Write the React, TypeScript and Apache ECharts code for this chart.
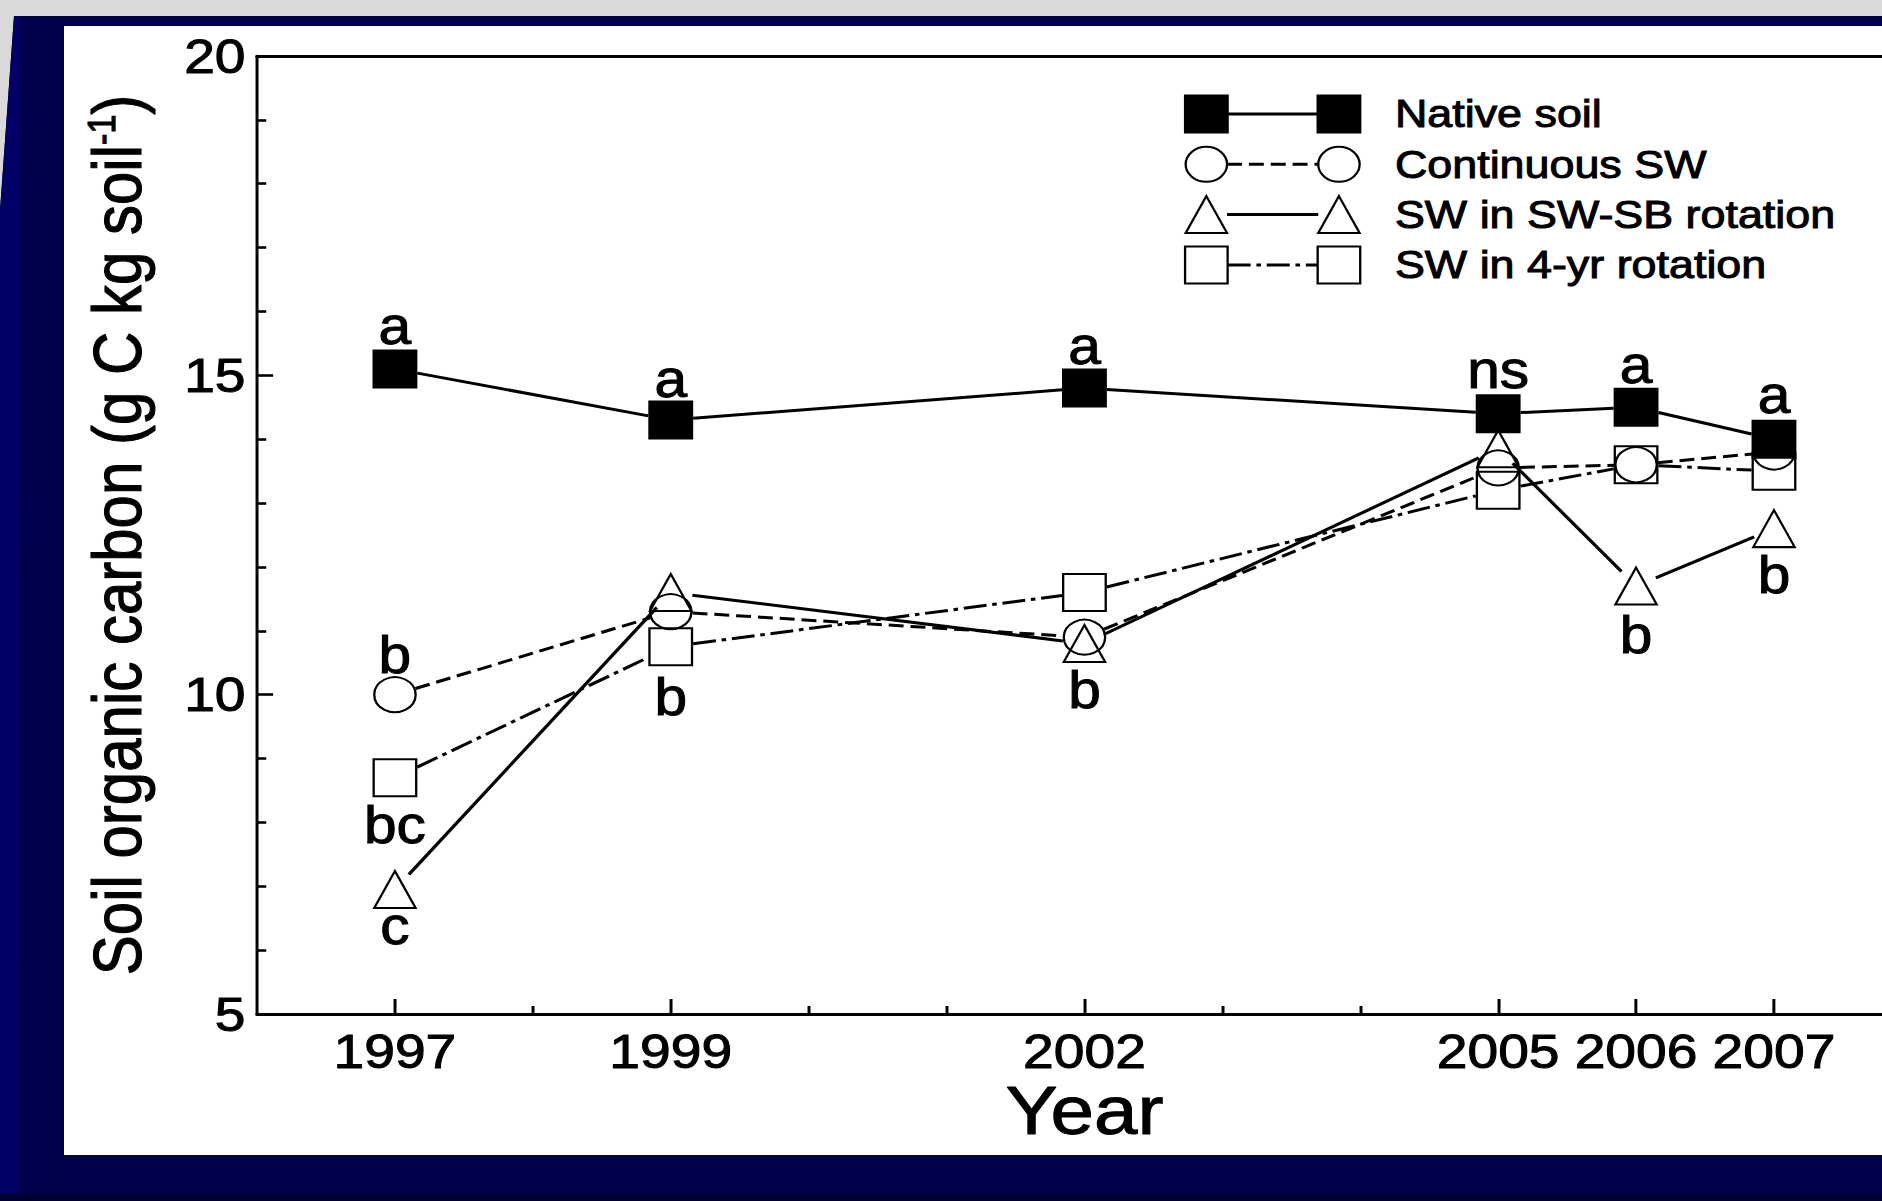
import React, { useEffect, useRef } from "react";
import * as echarts from "echarts";

// ---------- data ----------
const years = [1997, 1999, 2002, 2005, 2006, 2007];
const seriesNames = ["Native soil", "Continuous SW", "SW in SW-SB rotation", "SW in 4-yr rotation"];
const nativeSoil = [15.1, 14.3, 14.8, 14.4, 14.5, 14.0];
const continuousSW = [10.0, 11.3, 10.9, 13.55, 13.6, 13.8];
const swSbRotation = [6.95, 11.6, 10.8, 13.85, 11.7, 12.6];
const fourYrRotation = [8.7, 10.75, 11.6, 13.2, 13.6, 13.5];

const majorTickYears = [1997, 1999, 2002, 2005, 2006, 2007];
const minorTickYears = [1998, 2000, 2001, 2003, 2004];

const letterYears = [1997, 1999, 2002, 2005, 2006, 2007, 1997, 1999, 2002, 1997, 1997, 2006, 2007];
const letterPositions = [15.77, 14.93, 15.46, 15.07, 15.16, 14.69, 10.62, 9.95, 10.07, 7.95, 6.37, 10.93, 11.87];
const letterTexts = ["a", "a", "a", "ns", "a", "a", "b", "b", "b", "bc", "c", "b", "b"];

// ---------- layout / styles ----------
const W = 1882;
const H = 1201;
const STRETCH = 1.15;
const CW = W / STRETCH;
const FONT = "'Liberation Sans', Arial, Helvetica, sans-serif";
const TB = { textBorderColor: "#000", textBorderWidth: 1 };

type Kind = "rect" | "circle" | "triangle";
const seriesStyles: { kind: Kind; size: [number, number]; fill: string; dash: number[] | null }[] = [
  { kind: "rect", size: [37, 37], fill: "#000", dash: null },
  { kind: "circle", size: [36, 35], fill: "rgba(0,0,0,0)", dash: [13, 6] },
  { kind: "triangle", size: [36, 37], fill: "rgba(0,0,0,0)", dash: null },
  { kind: "rect", size: [37, 37], fill: "rgba(0,0,0,0)", dash: [20, 5, 4, 5] },
];
const seriesValues = [nativeSoil, continuousSW, swSbRotation, fourYrRotation];

function gapFor(kind: Kind, size: [number, number], ux: number, uy: number) {
  const a = size[0] / 2;
  const b = size[1] / 2;
  if (kind === "rect") {
    const tx = Math.abs(ux) > 1e-9 ? a / Math.abs(ux) : Infinity;
    const ty = Math.abs(uy) > 1e-9 ? b / Math.abs(uy) : Infinity;
    return Math.min(tx, ty);
  }
  return 1 / Math.sqrt((ux / a) ** 2 + (uy / b) ** 2);
}

function marker(kind: Kind, cx: number, cy: number, size: [number, number], fill: string) {
  const [w, h] = size;
  const style = { fill, stroke: "#000", lineWidth: 2 };
  if (kind === "rect") {
    return { type: "rect", shape: { x: cx - w / 2, y: cy - h / 2, width: w, height: h }, style };
  }
  if (kind === "circle") {
    return { type: "ellipse", shape: { cx, cy, rx: w / 2, ry: h / 2 }, style };
  }
  return {
    type: "polygon",
    shape: { points: [[cx, cy - h / 2], [cx + w / 2, cy + h / 2], [cx - w / 2, cy + h / 2]] },
    style,
  };
}

function buildOption() {
  const lineSeries = seriesValues.map((vals, si) => {
    const st = seriesStyles[si];
    return {
      type: "custom",
      name: seriesNames[si] + " line",
      coordinateSystem: "cartesian2d",
      silent: true,
      z: 2,
      encode: { x: [0, 2], y: [1, 3] },
      data: years.slice(0, -1).map((yr, i) => [yr, vals[i], years[i + 1], vals[i + 1]]),
      renderItem: (_params: any, api: any) => {
        const p1 = api.coord([api.value(0), api.value(1)]);
        const p2 = api.coord([api.value(2), api.value(3)]);
        const dx = p2[0] - p1[0];
        const dy = p2[1] - p1[1];
        const len = Math.hypot(dx, dy) || 1;
        const ux = dx / len;
        const uy = dy / len;
        const g = gapFor(st.kind, st.size, ux, uy) + 1;
        return {
          type: "line",
          shape: { x1: p1[0] + ux * g, y1: p1[1] + uy * g, x2: p2[0] - ux * g, y2: p2[1] - uy * g },
          style: { stroke: "#000", lineWidth: 3, lineDash: st.dash || undefined, fill: null },
        };
      },
    };
  });

  const markerSeries = seriesValues.map((vals, si) => {
    const st = seriesStyles[si];
    return {
      type: "scatter",
      name: seriesNames[si],
      silent: true,
      z: si === 0 ? 5 : 4,
      data: years.map((yr, i) => [yr, vals[i]]),
      symbol: st.kind,
      symbolSize: st.size,
      itemStyle: { color: st.fill, borderColor: "#000", borderWidth: 2, opacity: 1 },
    };
  });

  const letterSeries = {
    type: "custom",
    name: "letters",
    coordinateSystem: "cartesian2d",
    silent: true,
    z: 6,
    encode: { x: 0, y: 1 },
    data: letterYears.map((yr, i) => [yr, letterPositions[i]]),
    renderItem: (params: any, api: any) => {
      const p = api.coord([api.value(0), api.value(1)]);
      return {
        type: "text",
        x: p[0],
        y: p[1],
        style: {
          text: letterTexts[params.dataIndex],
          fontSize: 51,
          fontFamily: FONT,
          fill: "#000",
          stroke: "#000",
          lineWidth: 1,
          align: "center",
          verticalAlign: "middle",
        },
      };
    },
  };

  // legend (drawn manually to show marker—line—marker)
  const legTop = 114;
  const legGap = 50.3;
  const legL = 1049;
  const legR = 1164.3;
  const legText = 1213;
  const legendEls: any[] = [];
  seriesNames.forEach((name, i) => {
    const st = seriesStyles[i];
    const y = legTop + i * legGap;
    legendEls.push({
      type: "line",
      shape: { x1: legL + st.size[0] / 2, y1: y, x2: legR - st.size[0] / 2, y2: y },
      style: { stroke: "#000", lineWidth: 3, lineDash: st.dash || undefined },
    });
    legendEls.push(marker(st.kind, legL, y, st.size, st.fill));
    legendEls.push(marker(st.kind, legR, y, st.size, st.fill));
    legendEls.push({
      type: "text",
      x: legText,
      y,
      style: {
        text: name,
        fontSize: 39,
        fontFamily: FONT,
        fill: "#000",
        stroke: "#000",
        lineWidth: 1,
        align: "left",
        verticalAlign: "middle",
      },
    });
  });

  const axisLineStyle = { color: "#000", width: 2.6 };

  return {
    animation: false,
    backgroundColor: "transparent",
    tooltip: { show: false },
    grid: { left: 223.5, top: 56, width: 1439, height: 958, containLabel: false, outerBoundsMode: "none" },
    xAxis: [
      {
        type: "value",
        min: 1996,
        max: 2008,
        position: "bottom",
        axisLine: { show: true, onZero: false, lineStyle: { color: "#000", width: 3 } },
        axisTick: { show: true, inside: true, length: 15, lineStyle: axisLineStyle, customValues: majorTickYears },
        axisLabel: {
          show: true,
          customValues: majorTickYears,
          formatter: (v: number) => String(v),
          fontSize: 48,
          fontFamily: FONT,
          color: "#000",
          margin: 13,
          ...TB,
        },
        splitLine: { show: false },
        name: "Year",
        nameLocation: "middle",
        nameGap: 63,
        nameMoveOverlap: false,
        nameTextStyle: { fontSize: 68, fontFamily: FONT, color: "#000", ...TB },
      },
      {
        type: "value",
        min: 1996,
        max: 2008,
        position: "bottom",
        axisLine: { show: false },
        axisTick: { show: true, inside: true, length: 8, lineStyle: axisLineStyle, customValues: minorTickYears },
        axisLabel: { show: false },
        splitLine: { show: false },
      },
      {
        type: "value",
        min: 1996,
        max: 2008,
        position: "top",
        axisLine: { show: true, onZero: false, lineStyle: { color: "#000", width: 3 } },
        axisTick: { show: false },
        axisLabel: { show: false },
        splitLine: { show: false },
      },
    ],
    yAxis: [
      {
        type: "value",
        min: 5,
        max: 20,
        interval: 5,
        position: "left",
        axisLine: { show: true, onZero: false, lineStyle: axisLineStyle },
        axisTick: { show: true, inside: true, length: 14, lineStyle: axisLineStyle },
        minorTick: { show: true, splitNumber: 5, length: 8, lineStyle: { color: "#000", width: 2.6 } },
        axisLabel: { fontSize: 48, fontFamily: FONT, color: "#000", margin: 10, ...TB },
        splitLine: { show: false },
        minorSplitLine: { show: false },
        name: "Soil organic carbon (g C kg soil{sup|-1})",
        nameLocation: "middle",
        nameGap: 92,
        nameMoveOverlap: false,
        nameTextStyle: {
          fontSize: 60,
          fontFamily: FONT,
          color: "#000",
          ...TB,
          rich: {
            sup: { fontSize: 34, fontFamily: FONT, color: "#000", verticalAlign: "top", ...TB },
          },
        },
      },
    ],
    graphic: { elements: legendEls },
    series: [...lineSeries, ...markerSeries, letterSeries],
  };
}

export default function App() {
  const ref = useRef<HTMLDivElement>(null);
  useEffect(() => {
    if (!ref.current) return;
    const chart = echarts.init(ref.current, undefined, { renderer: "svg" });
    chart.setOption(buildOption() as any);
    return () => chart.dispose();
  }, []);
  return (
    <div
      style={{
        position: "fixed",
        left: 0,
        top: 0,
        width: W,
        height: H,
        background: "#D9D9D9",
        overflow: "hidden",
      }}
    >
      <div
        style={{
          position: "absolute",
          left: 0,
          top: 0,
          width: W,
          height: H,
          background: "#00004F",
          clipPath: "polygon(14px 16px, 1882px 16px, 1882px 1201px, 0px 1201px, 0px 210px)",
        }}
      />
      <div
        style={{
          position: "absolute",
          left: 0,
          top: 0,
          width: W,
          height: H,
          background: "#000066",
          clipPath: "polygon(14px 16px, 20px 16px, 17px 1201px, 0px 1201px, 0px 210px)",
        }}
      />
      <div
        style={{
          position: "absolute",
          left: 0,
          top: 1193,
          width: W,
          height: 8,
          background: "linear-gradient(#00003F, #000028)",
        }}
      />
      <div style={{ position: "absolute", left: 64, top: 26, width: W - 64, height: 1129, background: "#FFFFFF" }} />
      <div
        ref={ref}
        style={{
          position: "absolute",
          left: 0,
          top: 0,
          width: CW,
          height: H,
          transform: `scaleX(${STRETCH})`,
          transformOrigin: "0 0",
        }}
      />
    </div>
  );
}
